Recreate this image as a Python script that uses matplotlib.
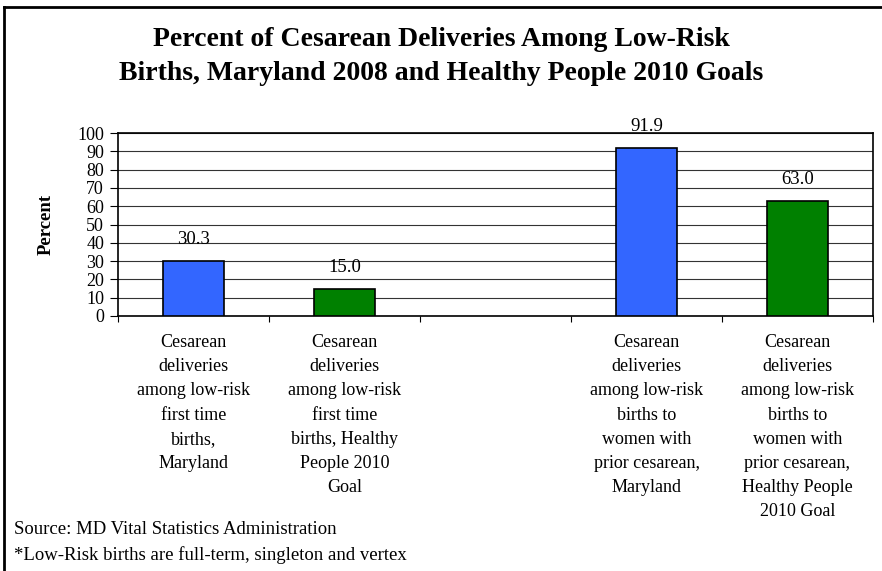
import matplotlib.pyplot as plt
from matplotlib.lines import Line2D

# chart data
categories = [
    "Cesarean\ndeliveries\namong low-risk\nfirst time\nbirths,\nMaryland",
    "Cesarean\ndeliveries\namong low-risk\nfirst time\nbirths, Healthy\nPeople 2010\nGoal",
    "",
    "Cesarean\ndeliveries\namong low-risk\nbirths to\nwomen with\nprior cesarean,\nMaryland",
    "Cesarean\ndeliveries\namong low-risk\nbirths to\nwomen with\nprior cesarean,\nHealthy People\n2010 Goal",
]
values = [30.3, 15.0, None, 91.9, 63.0]
bar_colors = ["#3366FF", "#008000", None, "#3366FF", "#008000"]
yticks = [0, 10, 20, 30, 40, 50, 60, 70, 80, 90, 100]

plt.rcParams['font.family'] = ['Liberation Serif', 'DejaVu Serif']

fig = plt.figure(figsize=(8.82, 5.71), dpi=100)
ax = fig.add_axes([118 / 882, 1 - 316 / 571, 755 / 882, 183 / 571])

# Draw bars
for i, (v, c) in enumerate(zip(values, bar_colors)):
    if v is None:
        continue
    ax.bar(i, v, width=0.4, color=c, edgecolor="black", linewidth=1.2, zorder=3)
    ax.text(i, v + 11.5, "%.1f" % v, ha="center", va="center", fontsize=13.5,
            zorder=4, clip_on=False)

ax.set_xlim(-0.5, len(values) - 0.5)
ax.set_ylim(0, 100)
ax.set_yticks(yticks)
ax.set_yticklabels([str(t) for t in yticks], fontsize=13)
ax.yaxis.grid(True, color="#333333", linewidth=0.8)
ax.set_axisbelow(True)

# category ticks at slot boundaries, labels centered
ax.set_xticks([i - 0.5 for i in range(len(values) + 1)])
ax.set_xticklabels([])
ax.set_xticks(range(len(values)), minor=True)
ax.set_xticklabels(categories, minor=True, fontsize=13, linespacing=1.55)
ax.tick_params(axis="x", which="minor", length=0, pad=13)
ax.tick_params(axis="x", which="major", length=4, direction="out")
ax.tick_params(axis="y", length=6, pad=4)
for s in ax.spines.values():
    s.set_linewidth(1.2)

ax.set_ylabel("Percent", fontsize=13.5, fontweight="bold", labelpad=16)

# Title
fig.text(0.5, 1 - 40 / 571, "Percent of Cesarean Deliveries Among Low-Risk",
         ha="center", va="center", fontsize=20, fontweight="bold")
fig.text(0.5, 1 - 73 / 571, "Births, Maryland 2008 and Healthy People 2010 Goals",
         ha="center", va="center", fontsize=20, fontweight="bold")

# Notes
fig.text(14 / 882, 1 - 530 / 571, "Source: MD Vital Statistics Administration",
         ha="left", va="center", fontsize=13.5)
fig.text(14 / 882, 1 - 555 / 571, "*Low-Risk births are full-term, singleton and vertex",
         ha="left", va="center", fontsize=13.5)

# outer frame (left and top edges visible)
fig.add_artist(Line2D([4 / 882, 4 / 882], [0, 1 - 7 / 571], color="black", linewidth=2,
                      transform=fig.transFigure))
fig.add_artist(Line2D([4 / 882, 1], [1 - 7 / 571, 1 - 7 / 571], color="black", linewidth=2,
                      transform=fig.transFigure))

plt.savefig("out.png", dpi=100)
